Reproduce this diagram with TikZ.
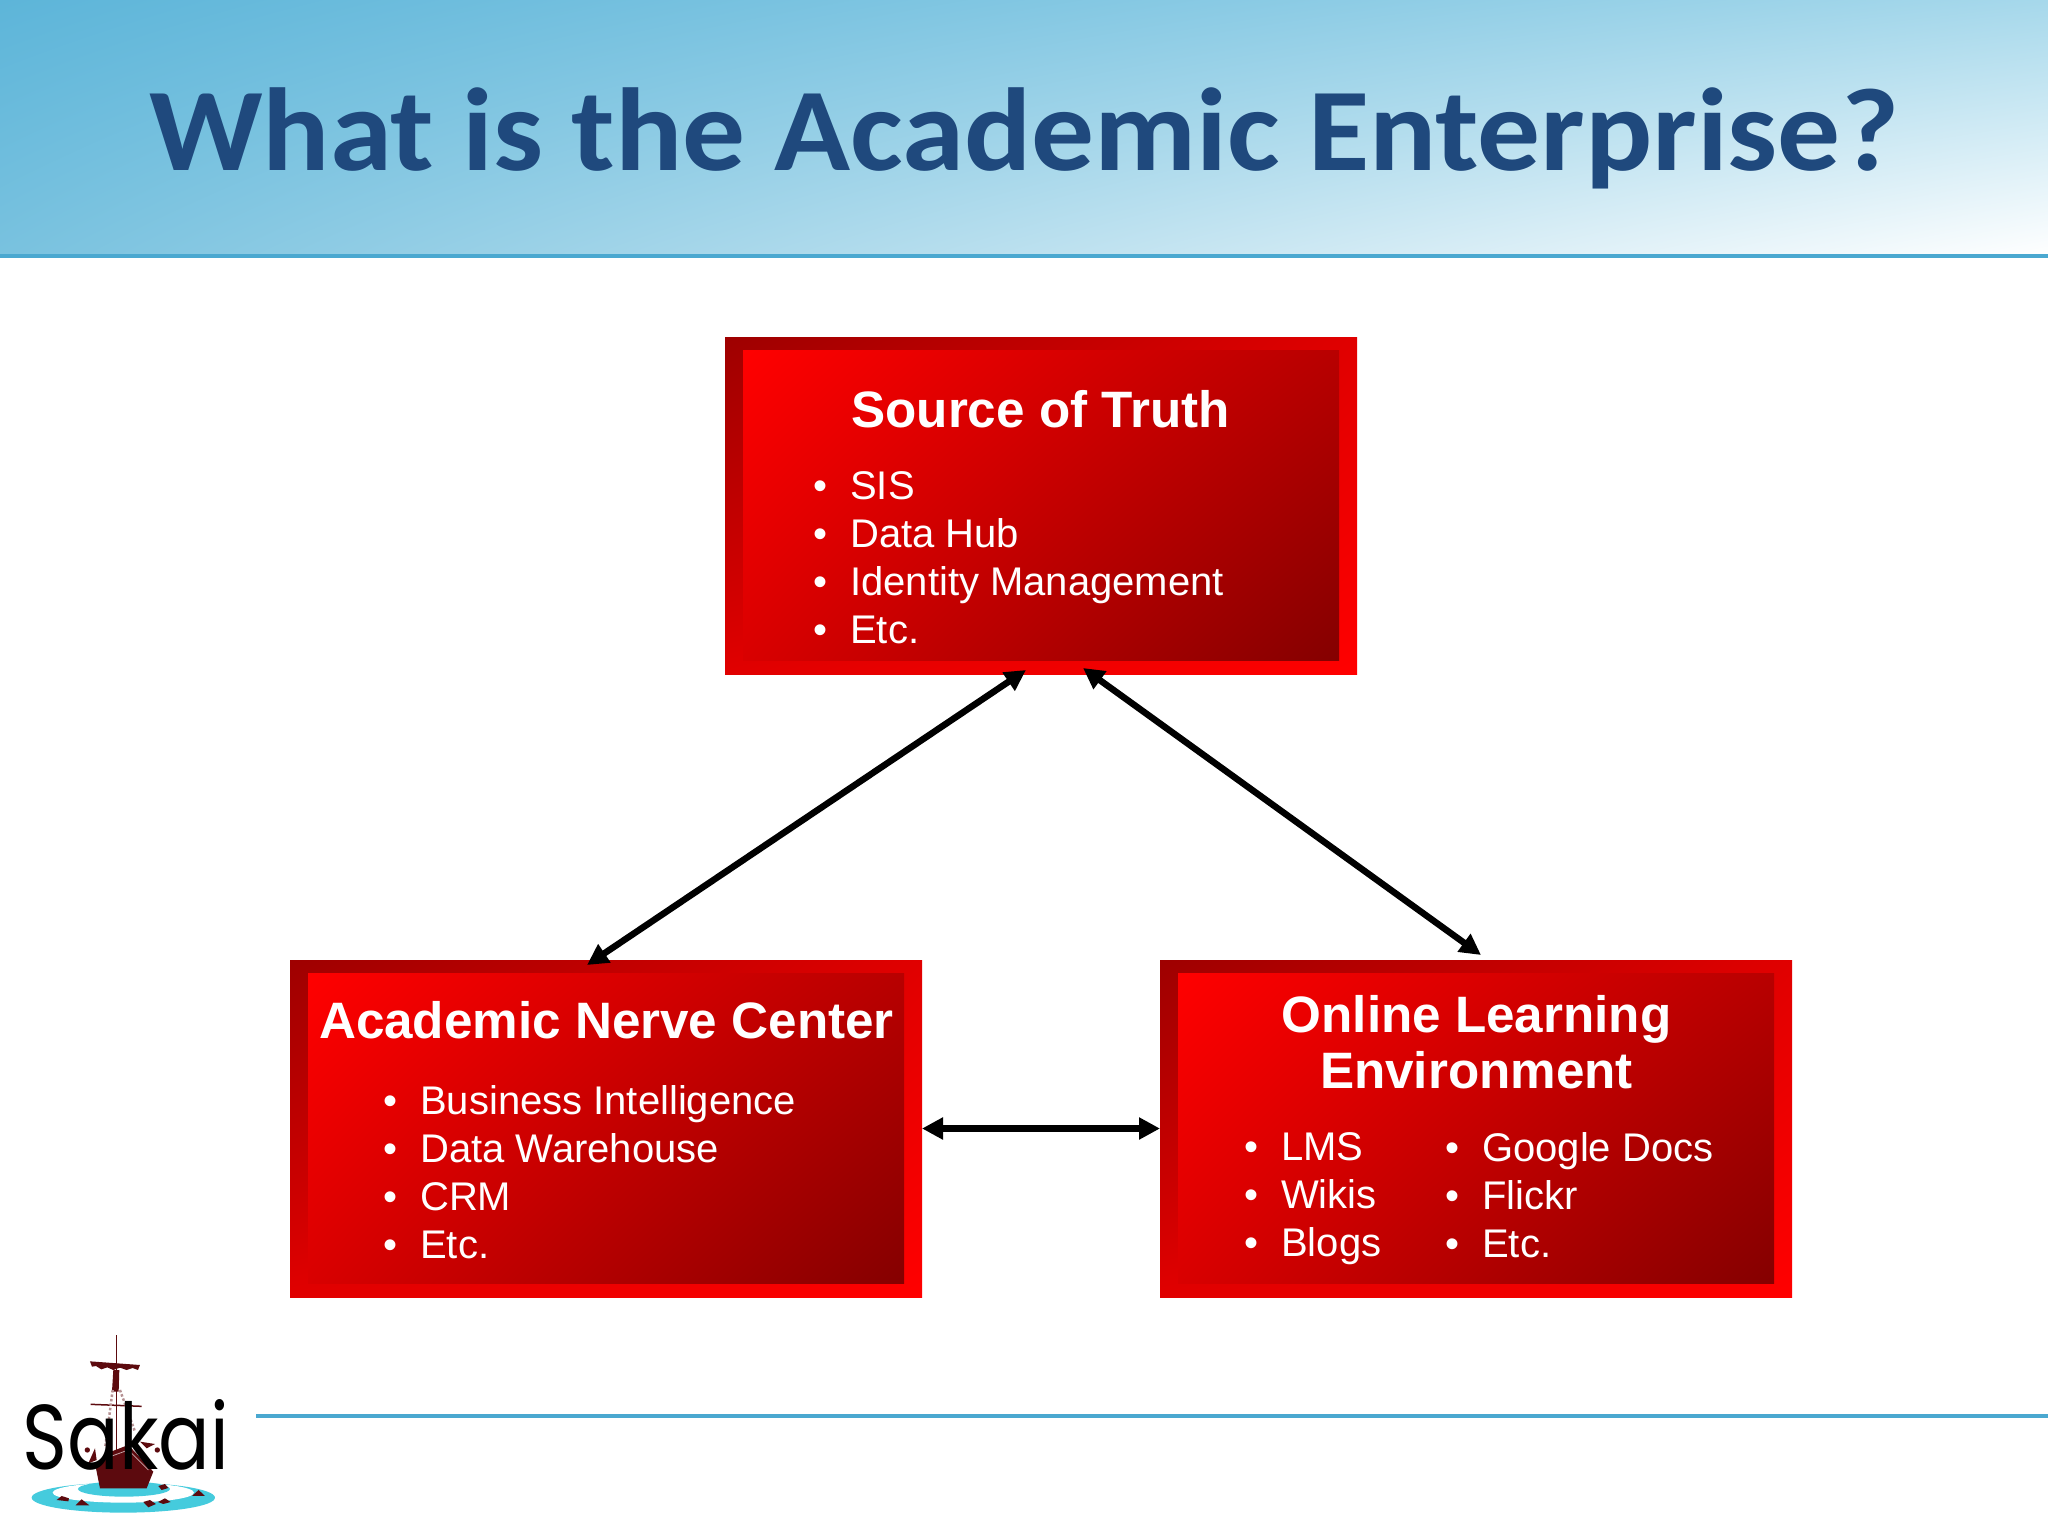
\documentclass[tikz,border=0pt]{standalone}
\usepackage{fontspec}
\setmainfont{Liberation Sans}
\newfontfamily\titlefont[FakeStretch=1.063]{Carlito}
\newfontfamily\logofont[FakeStretch=0.83]{Poppins}
\usepackage{xcolor}
\usetikzlibrary{calc,arrows.meta,shadings}
\definecolor{titleblue}{HTML}{1F497D}
\definecolor{rule}{HTML}{4AA8D0}
\definecolor{hull}{HTML}{5C0A0E}
\definecolor{water}{HTML}{45CBDD}
\definecolor{skya}{HTML}{5DB5D9}
\definecolor{skyb}{HTML}{A6D8EB}
\definecolor{skyc}{HTML}{79C2DF}
\newcommand{\bu}{\textbullet\hspace{23pt}}
\tikzset{
  frame/.style={shade, upper left=red!62!black, upper right=red!88!black, lower left=red!88!black, lower right=red,
    minimum width=632pt, minimum height=337pt, inner sep=0pt, outer sep=0pt},
  panel/.style={shade, upper left=red, upper right=red!72!black, lower left=red!85!black, lower right=red!52!black,
    minimum width=596pt, minimum height=310pt, inner sep=0pt, outer sep=0pt},
  head/.style={text=white, font=\fontsize{51.2}{56}\selectfont\bfseries, align=center, inner sep=0pt},
  items/.style={text=white, font=\fontsize{40}{48}\selectfont, align=left, anchor=north west, inner sep=0pt},
  link/.style={draw=black, line width=6.5pt, {Triangle[length=21pt,width=21pt]}-{Triangle[length=21pt,width=21pt]}},
  rulel/.style={draw=rule, line width=4pt},
  ship/.style={fill=hull, draw=none},
}
\begin{document}
\begin{tikzpicture}[x=1pt,y=-1pt]
  \useasboundingbox (0,0) rectangle (2048,1536);
  \fill[white] (0,0) rectangle (2048,1536);

  % header
  \shade[upper left=skya, upper right=skyb, lower left=skyc, lower right=white]
    (0,0) rectangle (2048,256);
  \draw[rulel] (0,256) -- (2048,256);
  \node[text=titleblue, font=\fontsize{118}{118}\selectfont\titlefont\bfseries, anchor=base, inner sep=0pt] (title) at (1024,170)
    {What is the Academic Enterprise?};
  \draw[rulel] (256,1416) -- (2048,1416);

  % boxes
  \node[frame] (truth) at (1041,505.5) {};
  \node[panel] (truthin) at (truth.center) {};
  \node[frame] (nerve) at (606,1128.5) {};
  \node[panel] (nervein) at (nerve.center) {};
  \node[frame] (online) at (1476,1128.5) {};
  \node[panel] (onlinein) at (online.center) {};

  \node[head] (truthhead) at (1040.5,409) {Source of Truth};
  \node[items] (truthlist) at (813,471) {\bu SIS\\\bu Data Hub\\\bu Identity Management\\\bu Etc.};

  \node[head] (nervehead) at (606.5,1020) {Academic Nerve Center};
  \node[items] (nervelist) at (383,1085) {\bu Business Intelligence\\\bu Data Warehouse\\\bu CRM\\\bu Etc.};

  \node[head] (onlinehead) at (1476.5,1042) {Online Learning\\Environment};
  \node[items] (onlinelist) at (1244,1132.5) {\bu LMS\\\bu Wikis\\\bu Blogs};
  \node[items] (onlinelistb) at (1445,1132.5) {\bu Google Docs\\\bu Flickr\\\bu Etc.};

  % connectors
  \draw[link] ($(truth.south)+(-15,-4)$) -- ($(nerve.north)+(-19,5)$);
  \draw[link] ($(truth.south)+(42,-6)$) -- ($(online.north)+(5,-5)$);
  \draw[link] (nerve.east) -- (online.west);

  % logo
  \begin{scope}[shift={(0,1300)},scale=0.3333]
    \fill[water] (370,593) ellipse (275 and 45);
    \fill[white] (370,578) ellipse (212 and 30);
    \fill[water] (372,567) ellipse (138 and 23);
    \draw[hull, line width=1.6pt] (349,105) -- (349,470);
    \fill[ship] (270,184) -- (420,195) -- (414,210) -- (398,204) -- (380,210) -- (360,203) -- (340,210) -- (322,202) -- (304,208) -- (288,198) -- (276,200) -- cycle;
    \fill[ship] (340,210) -- (358,210) -- (356,275) -- (336,275) -- cycle;
    \draw[hull, line width=1.5pt] (272,313) -- (425,319);
    \draw[hull!45!white, line width=2.5pt, dotted] (338,270) -- (316,440);
    \draw[hull!45!white, line width=2.5pt, dotted] (360,270) -- (405,395);
    \fill[ship] (288,505) -- (320,460) -- (385,435) -- (460,515) -- (440,565) -- (300,565) -- cycle;
    \draw[hull!35!white, line width=0.8pt] (325,472) -- (385,450) -- (445,510);
    \fill[ship] (262,450) circle (8);
    \fill[ship] (472,450) circle (8);
    \fill[ship] (420,425) -- (465,432) -- (440,445) -- cycle;
    \fill[ship] (265,490) -- (285,445) -- (290,480) -- cycle;
    \fill[ship] (170,600) -- (185,588) -- (207,595) -- (205,604) -- cycle;
    \fill[ship] (227,616) -- (245,598) -- (268,616) -- cycle;
    \fill[ship] (430,606) -- (450,600) -- (468,612) -- (445,622) -- cycle;
    \fill[ship] (474,606) -- (495,595) -- (512,606) -- (490,612) -- cycle;
    \fill[ship] (475,558) -- (495,552) -- (505,564) -- (485,570) -- cycle;
    \fill[ship] (576,588) -- (596,570) -- (615,588) -- cycle;
  \end{scope}
  \node[text=black, font=\fontsize{92}{92}\selectfont\logofont, anchor=base, inner sep=0pt] (logo) at (126,1469) {Sakai};
\end{tikzpicture}
\end{document}
